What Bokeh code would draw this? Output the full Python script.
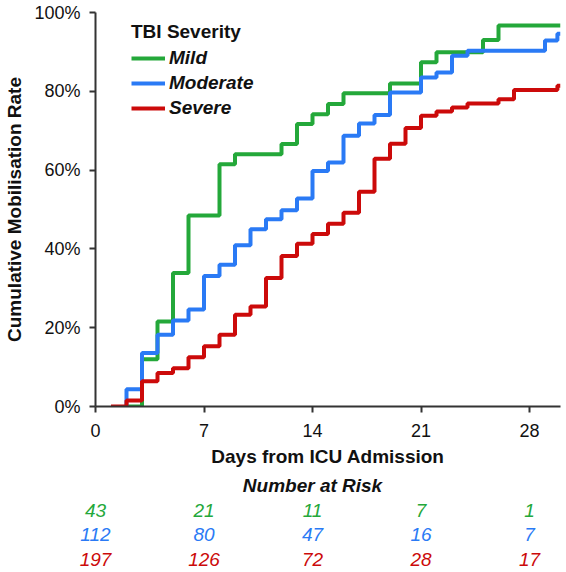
from bokeh.plotting import figure
from bokeh.models import Range1d, Legend, LegendItem, NumeralTickFormatter, FixedTicker, ColumnDataSource
from bokeh.layouts import column
from bokeh.core.properties import value
from bokeh.embed import file_html
from bokeh.resources import INLINE

# ---- data ----
mild_days = [2, 3, 4, 5, 6, 8, 9, 12, 13, 14, 15, 16, 19, 21, 22, 25, 26, 30]
mild_rate = [0, 12, 21.6, 33.9, 48.5, 61.5, 64, 66.6, 71.7, 74.2, 76.8, 79.5, 82, 87.4, 89.9, 93, 96.7, 96.7]

moderate_days = [2, 2, 3, 4, 5, 6, 7, 8, 9, 10, 11, 12, 13, 14, 15, 16, 17, 18, 19, 21, 22, 23, 24, 29, 29.8, 30]
moderate_rate = [0, 4.4, 13.6, 18.2, 21.8, 24.6, 33.1, 36, 40.9, 45, 47.5, 49.8, 52.8, 59.8, 61.9, 68.7, 71.8, 74,
                 79.7, 83.5, 84.8, 89, 90.3, 92.9, 94.6, 94.6]

severe_days = [1, 2, 3, 4, 5, 6, 7, 8, 9, 10, 11, 12, 13, 14, 15, 16, 17, 18, 19, 20, 21, 22, 23, 24, 26, 27, 29.8, 30]
severe_rate = [0, 1.5, 6.4, 8.5, 9.7, 12.5, 15.3, 18.2, 23.3, 25.4, 32.6, 38.2, 41.3, 43.8, 46.4, 49.2, 54.5, 62.9,
               66.7, 70.7, 73.8, 74.9, 75.9, 76.9, 78, 80.3, 81.4, 81.4]

groups = ["Mild", "Moderate", "Severe"]
colors = ["#24a83a", "#2a7af5", "#cc0a0a"]

risk_days = [0, 7, 14, 21, 28]
risk_mild = [43, 21, 11, 7, 1]
risk_moderate = [112, 80, 47, 16, 7]
risk_severe = [197, 126, 72, 28, 17]

x_ticks = [0, 7, 14, 21, 28]
y_ticks = [0, 0.2, 0.4, 0.6, 0.8, 1.0]

FONT = "Liberation Sans"
X0, X1 = 0, 30
LEFT, RIGHT, W = 95, 6, 566

# ---- main plot ----
p = figure(width=W, height=470, x_range=Range1d(X0, X1), y_range=Range1d(0, 1),
           output_backend="svg", toolbar_location=None,
           min_border_left=LEFT, min_border_right=RIGHT, min_border_top=12, min_border_bottom=64)
p.frame_align = False
p.outline_line_color = None
p.xgrid.visible = False
p.ygrid.visible = False
p.background_fill_color = "white"
p.border_fill_color = "white"

series = [(mild_days, mild_rate), (moderate_days, moderate_rate), (severe_days, severe_rate)]
renderers = []
for (d, r), c in zip(series, colors):
    src = ColumnDataSource(dict(x=d, y=[v / 100 for v in r]))
    rr = p.step("x", "y", source=src, mode="after", line_color=c, line_width=4)
    renderers.append(rr)

for ax in (p.xaxis[0], p.yaxis[0]):
    ax.axis_line_color = "#333333"
    ax.axis_line_width = 2
    ax.major_tick_line_color = "#333333"
    ax.major_tick_line_width = 2
    ax.major_tick_out = 6
    ax.major_tick_in = 0
    ax.minor_tick_out = 0
    ax.minor_tick_in = 0
    ax.major_label_text_font = FONT
    ax.major_label_text_font_size = "18px"
    ax.major_label_text_color = "#111111"
    ax.axis_label_text_font = FONT
    ax.axis_label_text_font_size = "19px"
    ax.axis_label_text_font_style = "bold"
    ax.axis_label_text_color = "#111111"

p.xaxis.ticker = FixedTicker(ticks=x_ticks)
p.yaxis.ticker = FixedTicker(ticks=y_ticks)
p.yaxis.formatter = NumeralTickFormatter(format="0%")
p.xaxis.axis_label = "Days from ICU Admission"
p.yaxis.axis_label = "Cumulative Mobilisation Rate"
p.xaxis.major_label_standoff = 11
p.xaxis.axis_label_standoff = 6
p.yaxis.major_label_standoff = 9
p.yaxis.axis_label_standoff = 6

legend = Legend(items=[LegendItem(label=g, renderers=[r]) for g, r in zip(groups, renderers)],
                location=(36, 287), title="TBI Severity")
legend.title_text_font = FONT
legend.title_text_font_size = "19px"
legend.title_text_font_style = "bold"
legend.title_text_color = "#111111"
legend.title_standoff = 4
legend.label_text_font = FONT
legend.label_text_font_size = "19px"
legend.label_text_font_style = "bold italic"
legend.label_text_color = "#111111"
legend.border_line_color = None
legend.background_fill_alpha = 0
legend.padding = 0
legend.margin = 0
legend.spacing = 3
legend.glyph_width = 34
legend.glyph_height = 20
legend.label_height = 20
legend.label_standoff = 4
p.add_layout(legend, "center")

# ---- number at risk table (same day-to-pixel scale, full-width frame) ----
px_per_day = (W - LEFT - RIGHT) / (X1 - X0)
t = figure(width=W, height=102,
           x_range=Range1d(X0 - LEFT / px_per_day, X1 + RIGHT / px_per_day),
           y_range=Range1d(-0.527, 3.608),
           output_backend="svg", toolbar_location=None,
           x_axis_location=None, y_axis_location=None,
           min_border_left=0, min_border_right=0, min_border_top=0, min_border_bottom=0)
t.frame_align = False
t.outline_line_color = None
t.xgrid.visible = False
t.ygrid.visible = False

t.text(x=[14], y=[3], text=["Number at Risk"], text_font=value(FONT), text_font_size="19px",
       text_font_style="bold italic", text_color="#111111", text_align="center", text_baseline="middle")
for row, (vals, c) in enumerate(zip([risk_mild, risk_moderate, risk_severe], colors)):
    t.text(x=risk_days, y=[2 - row] * len(vals), text=[str(v) for v in vals], text_font=value(FONT),
           text_font_size="19px", text_font_style="italic", text_color=c,
           text_align="center", text_baseline="middle")

layout = column(p, t, spacing=0)
open("out.html", "w").write(file_html(layout, INLINE))
